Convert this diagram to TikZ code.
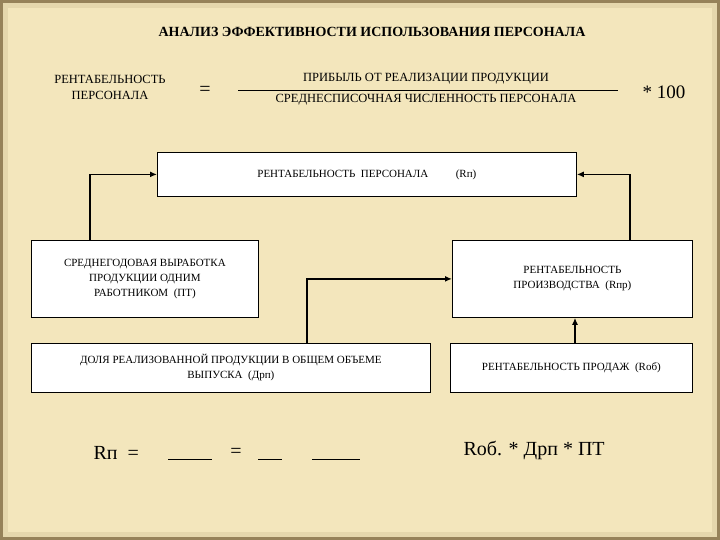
\documentclass[tikz,border=0pt]{standalone}
\usepackage{fontspec}
\setmainfont{Liberation Serif}
\usetikzlibrary{arrows.meta}
\begin{document}
\begin{tikzpicture}[x=1pt,y=-1pt,
  box/.style={draw=black,fill=white,line width=0.8pt,align=center,font=\fontsize{11}{15}\selectfont,inner sep=2pt},
  conn/.style={line width=1.6pt,-{Latex[length=7pt,width=6pt]}}]
\definecolor{bg}{RGB}{243,230,188}
\definecolor{frame}{RGB}{150,130,90}
\useasboundingbox (0,0) rectangle (720,540);
\fill[frame] (0,0) rectangle (720,540);
\fill[bg!85!frame] (3,3) rectangle (717,537);
\fill[bg] (8,8) rectangle (712,532);
\node[font=\bfseries\fontsize{14}{16}\selectfont] (title) at (372,32) {АНАЛИЗ ЭФФЕКТИВНОСТИ ИСПОЛЬЗОВАНИЯ ПЕРСОНАЛА};
\node[align=center,font=\fontsize{12.5}{16}\selectfont] (rp) at (110,87) {РЕНТАБЕЛЬНОСТЬ\\ПЕРСОНАЛА};
\node[font=\fontsize{20}{22}\selectfont] (eq) at (205,91) {=};
\node[font=\fontsize{12.5}{15}\selectfont] (num) at (426,79) {ПРИБЫЛЬ ОТ РЕАЛИЗАЦИИ ПРОДУКЦИИ};
\node[font=\fontsize{12.5}{15}\selectfont] (den) at (426,100) {СРЕДНЕСПИСОЧНАЯ ЧИСЛЕННОСТЬ ПЕРСОНАЛА};
\coordinate (fl) at (238,90); \coordinate (fr) at (618,90);
\draw[line width=0.7pt] (fl) -- (fr);
\node[font=\fontsize{19}{21}\selectfont] (h) at (664,92) {* 100};

\node[box,minimum width=419pt,minimum height=44pt,anchor=north west] (top) at (157,152) {РЕНТАБЕЛЬНОСТЬ\ \ ПЕРСОНАЛА\hspace{2.5em}(Rп)};
\node[box,minimum width=227pt,minimum height=77pt,anchor=north west] (pt) at (31,240) {СРЕДНЕГОДОВАЯ ВЫРАБОТКА\\ПРОДУКЦИИ ОДНИМ\\РАБОТНИКОМ\ \ (ПТ)};
\node[box,minimum width=240pt,minimum height=77pt,anchor=north west] (rpr) at (452,240) {РЕНТАБЕЛЬНОСТЬ\\ПРОИЗВОДСТВА\ \ (Rпр)};
\node[box,minimum width=399pt,minimum height=49pt,anchor=north west] (drp) at (31,343) {ДОЛЯ РЕАЛИЗОВАННОЙ ПРОДУКЦИИ В ОБЩЕМ ОБЪЕМЕ\\ВЫПУСКА\ \ (Дрп)};
\node[box,minimum width=242pt,minimum height=49pt,anchor=north west] (rob) at (450,343) {РЕНТАБЕЛЬНОСТЬ ПРОДАЖ\ \ (Rоб)};

\draw[conn] (pt.north -| 90,0) |- (top.west);
\draw[conn] (rpr.north -| 630,0) |- (top.east);
\draw[conn] (drp.north -| 307,0) |- (rpr.west);
\draw[conn] (rob.north -| 575,0) -- (rpr.south -| 575,0);

\node[font=\fontsize{20}{22}\selectfont,anchor=west] (f1) at (90,453) {Rп\ \ =};
\coordinate (l1a) at (168,459); \coordinate (l1b) at (212,459);
\draw[line width=0.7pt] (l1a) -- (l1b);
\node[font=\fontsize{20}{22}\selectfont] (f2) at (236,453) {=};
\coordinate (l2a) at (258,459); \coordinate (l2b) at (282,459);
\draw[line width=0.7pt] (l2a) -- (l2b);
\coordinate (l3a) at (312,459); \coordinate (l3b) at (360,459);
\draw[line width=0.7pt] (l3a) -- (l3b);
\node[font=\fontsize{20}{22}\selectfont,anchor=west] (f3) at (460,450) {Rоб. * Дрп * ПТ};
\end{tikzpicture}
\end{document}
